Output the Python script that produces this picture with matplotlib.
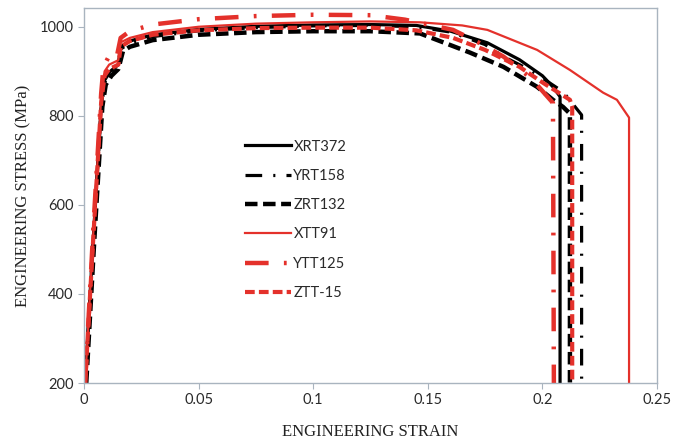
import matplotlib
matplotlib.use("Agg")
import matplotlib.pyplot as plt

plt.rcParams['lines.scale_dashes'] = False

# ---------------- data (strain, stress in MPa) ----------------
xrt372_strain = [0.0005, 0.004, 0.0075, 0.009, 0.0115, 0.015, 0.016, 0.02, 0.03, 0.05, 0.075, 0.1, 0.125, 0.145, 0.16, 0.176, 0.19, 0.2, 0.2046, 0.2077, 0.2077]
xrt372_stress = [200, 520, 820, 880, 900, 915, 955, 968, 982, 994, 1001, 1004, 1005, 1003, 990, 964, 926, 890, 865, 843, 200]

yrt158_strain = [0.0005, 0.004, 0.0075, 0.009, 0.0115, 0.015, 0.016, 0.02, 0.03, 0.05, 0.075, 0.1, 0.125, 0.145, 0.16, 0.175, 0.183, 0.1946, 0.209, 0.2171, 0.2171]
yrt158_stress = [200, 515, 815, 875, 895, 910, 950, 963, 978, 991, 998, 1002, 1003, 1000, 988, 960, 933, 903, 854, 802, 200]

zrt132_strain = [0.001, 0.0045, 0.008, 0.0095, 0.012, 0.015, 0.017, 0.02, 0.03, 0.05, 0.075, 0.1, 0.125, 0.1466, 0.1684, 0.183, 0.1977, 0.2046, 0.209, 0.212, 0.212]
zrt132_stress = [200, 520, 820, 870, 890, 905, 945, 955, 970, 982, 988, 990, 990, 985, 942, 910, 865, 836, 820, 805, 200]

xtt91_strain = [0.0005, 0.004, 0.0075, 0.009, 0.011, 0.015, 0.016, 0.02, 0.03, 0.05, 0.075, 0.1, 0.125, 0.1466, 0.165, 0.176, 0.1977, 0.212, 0.2265, 0.2325, 0.2378, 0.2378]
xtt91_stress = [200, 530, 840, 900, 915, 925, 965, 975, 988, 1000, 1007, 1010, 1012, 1010, 1003, 993, 948, 903, 852, 836, 796, 200]

ytt125_strain = [0.0005, 0.004, 0.0075, 0.0085, 0.0105, 0.014, 0.016, 0.02, 0.03, 0.05, 0.075, 0.1, 0.125, 0.14, 0.161, 0.172, 0.183, 0.195, 0.2046, 0.205]
ytt125_stress = [200, 540, 850, 910, 930, 925, 975, 990, 1005, 1017, 1024, 1027, 1026, 1016, 993, 965, 933, 885, 829, 200]

ztt15_strain = [0.0005, 0.004, 0.0075, 0.009, 0.011, 0.015, 0.016, 0.02, 0.03, 0.05, 0.075, 0.1, 0.125, 0.145, 0.161, 0.175, 0.19, 0.2, 0.212, 0.213, 0.213]
ztt15_stress = [200, 520, 830, 890, 905, 915, 955, 968, 982, 992, 997, 998, 998, 992, 975, 948, 910, 875, 836, 820, 200]

labels = ["XRT372", "YRT158", "ZRT132", "XTT91", "YTT125", "ZTT-15"]
x_ticks = [0, 0.05, 0.1, 0.15, 0.2, 0.25]
x_ticklabels = ["0", "0.05", "0.1", "0.15", "0.2", "0.25"]
y_ticks = [200, 400, 600, 800, 1000]

RED = "#e4312b"
BLACK = "#000000"

fig = plt.figure(figsize=(6.9, 4.48), dpi=100)
ax = fig.add_axes([0.1217, 0.145, 0.8305, 0.837])

ax.plot(xrt372_strain, xrt372_stress, color=BLACK, lw=2.3, label=labels[0])
ax.plot(yrt158_strain, yrt158_stress, color=BLACK, lw=2.3,
        linestyle=(0, (12, 8, 1.5, 8)), label=labels[1])
ax.plot(zrt132_strain, zrt132_stress, color=BLACK, lw=3.2,
        linestyle=(0, (9, 4)), label=labels[2])
ax.plot(xtt91_strain, xtt91_stress, color=RED, lw=1.6, label=labels[3])
ax.plot(ytt125_strain, ytt125_stress, color=RED, lw=3.2,
        linestyle=(0, (17, 11, 2, 11)), label=labels[4])
ax.plot(ztt15_strain, ztt15_stress, color=RED, lw=3.0,
        linestyle=(0, (7, 3)), label=labels[5])

ax.set_xlim(0, 0.25)
ax.set_ylim(200, 1042)
ax.set_xticks(x_ticks)
ax.set_xticklabels(x_ticklabels)
ax.set_yticks(y_ticks)

for s in ax.spines.values():
    s.set_color("#a9b4bf")
    s.set_linewidth(1.0)
ax.tick_params(axis="both", direction="out", length=4, color="#a9b4bf",
               labelsize=10.5, labelcolor="#2a2a2a")
for t in ax.get_xticklabels() + ax.get_yticklabels():
    t.set_fontfamily("Lato")

ax.set_xlabel("ENGINEERING STRAIN", fontfamily="Liberation Serif", fontsize=12,
              color="#222222", labelpad=12)
ax.set_ylabel("ENGINEERING STRESS (MPa)", fontfamily="Liberation Serif", fontsize=12,
              color="#222222", labelpad=6)

leg = ax.legend(loc="upper left", bbox_to_anchor=(0.27, 0.665), frameon=False,
                prop={"family": "Lato", "size": 10.5}, handlelength=3.2,
                handletextpad=0.15, labelspacing=1.05, borderaxespad=0)
for t in leg.get_texts():
    t.set_color("#2a2a2a")

fig.savefig("out.png", dpi=100)
